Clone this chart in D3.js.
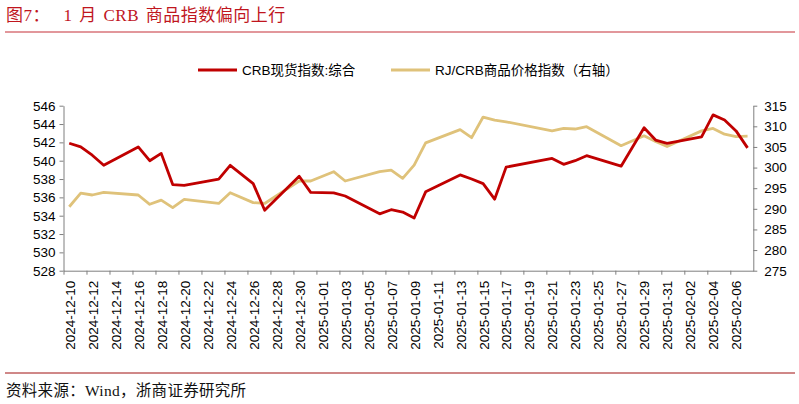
<!DOCTYPE html>
<html><head><meta charset="utf-8">
<script src="https://cdn.jsdelivr.net/npm/d3@7"></script>
<style>
body{margin:0;background:#fff;}
svg{display:block;}
</style></head>
<body>
<svg id="c" width="799" height="404"></svg>
<script>
// ---- data ----
const dates = ["2024-12-10","2024-12-11","2024-12-12","2024-12-13","2024-12-16","2024-12-17","2024-12-18","2024-12-19","2024-12-20",
 "2024-12-23","2024-12-24","2024-12-26","2024-12-27","2024-12-30","2024-12-31","2025-01-02","2025-01-03",
 "2025-01-06","2025-01-07","2025-01-08","2025-01-09","2025-01-10","2025-01-13","2025-01-14","2025-01-15","2025-01-16","2025-01-17",
 "2025-01-21","2025-01-22","2025-01-23","2025-01-24","2025-01-27","2025-01-28","2025-01-29","2025-01-30","2025-01-31",
 "2025-02-03","2025-02-04","2025-02-05","2025-02-06","2025-02-07"];
const crbSpot = [541.9,541.5,540.6,539.5,541.5,540.0,540.8,537.4,537.3,
 538.0,539.5,537.5,534.6,538.3,536.55,536.5,536.15,
 534.2,534.65,534.4,533.75,536.6,538.45,538.0,537.5,535.8,539.3,
 540.25,539.6,540.0,540.55,539.4,541.5,543.6,542.25,541.9,
 542.6,545.0,544.45,543.25,541.4];
const rjCrb = [290.5,293.8,293.35,294.0,293.35,291.1,292.1,290.3,292.3,
 291.3,293.9,291.5,291.3,296.75,296.75,299.0,296.75,
 299.0,299.4,297.4,300.6,306.0,309.2,307.25,312.25,311.5,311.1,
 308.9,309.5,309.35,309.9,305.3,306.5,307.7,306.3,305.1,
 308.9,309.5,308.1,307.5,307.6];
const leftTicks = [528,530,532,534,536,538,540,542,544,546];
const rightTicks = [275,280,285,290,295,300,305,310,315];
const seriesNames = ["CRB现货指数:综合","RJ/CRB商品价格指数（右轴）"];
const title = "图7：  1 月 CRB 商品指数偏向上行";
const source = "资料来源：Wind，浙商证券研究所";

// ---- chart ----
const svg = d3.select("#c");
const parse = d3.timeParse("%Y-%m-%d");
const fmt = d3.timeFormat("%Y-%m-%d");
const start = parse("2024-12-10"), end = parse("2025-02-08");
const L = 63.5, R = 753.3, T = 105.7, B = 270.7;
const x = d3.scaleTime().domain([start, end]).range([L, R]);
const yL = d3.scaleLinear().domain([528, 546]).range([B, T]);
const yR = d3.scaleLinear().domain([275, 315]).range([B, T]);
const mid = d => d3.timeHour.offset(d, 12);

const red = "#C00000", gold = "#DFC27A";
const font = "'Liberation Sans', Arial, 'Noto Sans CJK SC', sans-serif";
const serif = "'Liberation Serif', 'Times New Roman', 'Noto Sans CJK SC', serif";

// title
svg.append("text").attr("x", 6).attr("y", 21).attr("fill", "#C0161E")
  .style("font-family", serif).style("font-size", "17px").style("white-space","pre")
  .style("letter-spacing", "0.5px").style("word-spacing", "2px")
  .attr("xml:space","preserve").text(title);
svg.append("line").attr("x1", 5).attr("x2", 795).attr("y1", 32).attr("y2", 32)
  .attr("stroke", "#D9747A").attr("stroke-width", 1.6);
// bottom rule & source
svg.append("line").attr("x1", 5).attr("x2", 795).attr("y1", 373).attr("y2", 373)
  .attr("stroke", "#A01010").attr("stroke-width", 1);
svg.append("text").attr("x", 6).attr("y", 396).attr("fill", "#111")
  .style("font-family", serif).style("font-size", "15.5px").style("letter-spacing", "0.3px").text(source);

// axes
const tickDays = d3.range(0, 60, 2).map(i => d3.timeDay.offset(start, i));
const gx = svg.append("g").attr("transform", `translate(0,${B})`)
  .call(d3.axisBottom(x).tickValues(tickDays).tickSize(4).tickSizeOuter(0).tickFormat(""));
const gxl = svg.append("g").attr("transform", `translate(0,${B})`)
  .call(d3.axisBottom(x).tickValues(tickDays.map(mid)).tickSize(0).tickFormat(d => fmt(d3.timeHour.offset(d, -12))));
gxl.select(".domain").remove();
gxl.selectAll("text").attr("transform", "rotate(-90)").attr("x", -10).attr("y", 0).attr("dy", "0.36em")
  .style("text-anchor", "end");

const gl = svg.append("g").attr("transform", `translate(${L},0)`)
  .call(d3.axisLeft(yL).tickValues(leftTicks).tickSize(4).tickSizeOuter(0).tickPadding(4).tickFormat(d3.format("d")));
const gr = svg.append("g").attr("transform", `translate(${R},0)`)
  .call(d3.axisRight(yR).tickValues(rightTicks).tickSize(4).tickSizeOuter(0).tickPadding(7).tickFormat(d3.format("d")));

[gx, gxl, gl, gr].forEach(g => {
  g.selectAll(".domain, line").attr("stroke", "#7f7f7f");
  g.selectAll("text").attr("fill", "#000").style("font-family", font).style("font-size", "13.5px");
});

// lines
const pts = dates.map(parse);
const lineL = d3.line().x((d, i) => x(mid(pts[i]))).y(d => yL(d));
const lineR = d3.line().x((d, i) => x(mid(pts[i]))).y(d => yR(d));
svg.append("path").attr("d", lineR(rjCrb)).attr("fill", "none").attr("stroke", gold)
  .attr("stroke-width", 2.8).attr("stroke-linejoin", "round");
svg.append("path").attr("d", lineL(crbSpot)).attr("fill", "none").attr("stroke", red)
  .attr("stroke-width", 2.8).attr("stroke-linejoin", "round");

// legend
const leg = [{c: red, x1: 198, x2: 237, tx: 242, t: seriesNames[0]},
             {c: gold, x1: 391, x2: 430, tx: 435, t: seriesNames[1]}];
leg.forEach(l => {
  svg.append("line").attr("x1", l.x1).attr("x2", l.x2).attr("y1", 70).attr("y2", 70)
    .attr("stroke", l.c).attr("stroke-width", 2.8);
  svg.append("text").attr("x", l.tx).attr("y", 75).attr("fill", "#000")
    .style("font-family", font).style("font-size", "13.5px").text(l.t);
});
</script>
</body></html>
